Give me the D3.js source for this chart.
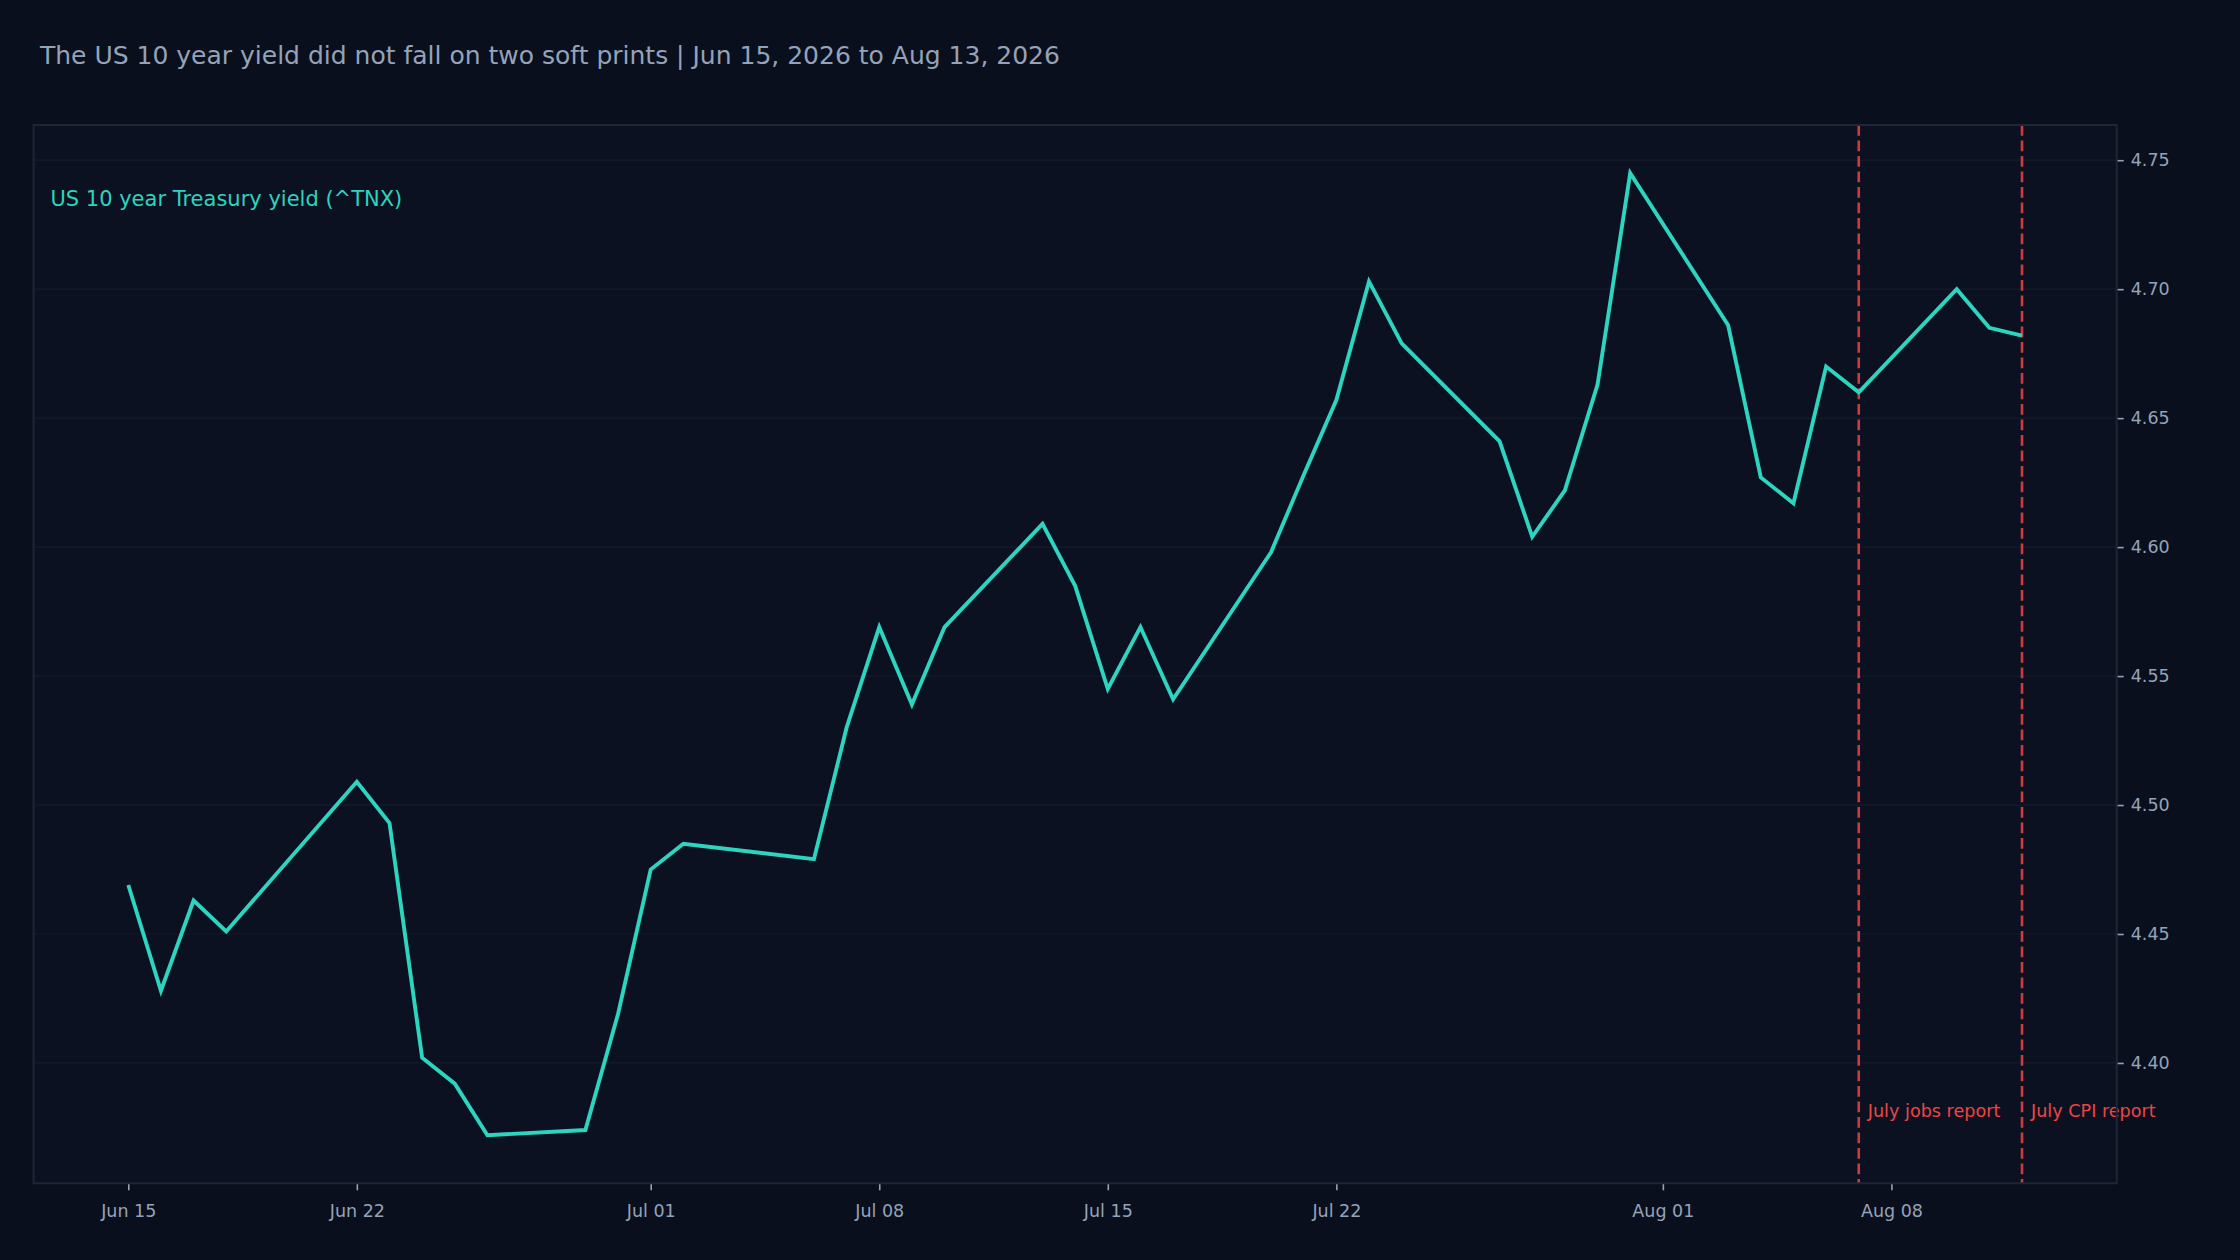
<!DOCTYPE html>
<html>
<head>
<meta charset="utf-8">
<script src="https://cdn.jsdelivr.net/npm/d3@7"></script>
<style>
  html, body { margin: 0; padding: 0; background: #0a0f1e; }
  svg { display: block; font-family: "DejaVu Sans", sans-serif; }
  .tick text { fill: #94a3b8; }
  .tick line { stroke: #94a3b8; }
  .domain { display: none; }
</style>
</head>
<body>
<div class="chart"></div>
<script>
// trading days and closing yield of ^TNX
var dates = [
  "2026-06-15", "2026-06-16", "2026-06-17", "2026-06-18",
  "2026-06-22", "2026-06-23", "2026-06-24", "2026-06-25", "2026-06-26",
  "2026-06-29", "2026-06-30", "2026-07-01", "2026-07-02",
  "2026-07-06", "2026-07-07", "2026-07-08", "2026-07-09", "2026-07-10",
  "2026-07-13", "2026-07-14", "2026-07-15", "2026-07-16", "2026-07-17",
  "2026-07-20", "2026-07-21", "2026-07-22", "2026-07-23", "2026-07-24",
  "2026-07-27", "2026-07-28", "2026-07-29", "2026-07-30", "2026-07-31",
  "2026-08-03", "2026-08-04", "2026-08-05", "2026-08-06", "2026-08-07",
  "2026-08-10", "2026-08-11", "2026-08-12"
];
var yields = [
  4.469, 4.428, 4.463, 4.451,
  4.509, 4.493, 4.402, 4.392, 4.372,
  4.374, 4.419, 4.475, 4.485,
  4.479, 4.530, 4.569, 4.539, 4.569,
  4.609, 4.585, 4.545, 4.569, 4.541,
  4.598, 4.628, 4.657, 4.703, 4.679,
  4.641, 4.604, 4.622, 4.663, 4.745,
  4.686, 4.627, 4.617, 4.670, 4.660,
  4.700, 4.685, 4.682
];

// event markers
var eventDates = ["2026-08-07", "2026-08-12"];
var eventLabels = ["July jobs report", "July CPI report"];

// axis ticks
var xTicks = ["2026-06-15", "2026-06-22", "2026-07-01", "2026-07-08",
              "2026-07-15", "2026-07-22", "2026-08-01", "2026-08-08"];
var yTicks = [4.40, 4.45, 4.50, 4.55, 4.60, 4.65, 4.70, 4.75];

var titleText = "The US 10 year yield did not fall on two soft prints | Jun 15, 2026 to Aug 13, 2026";
var seriesLabel = "US 10 year Treasury yield (^TNX)";

var svgWidth = 2240;
var svgHeight = 1260;
var fontFamily = "'DejaVu Sans', sans-serif";

var margin = {
  top: 125,
  right: 123.3,
  bottom: 76.7,
  left: 33.6
};

var width = svgWidth - margin.left - margin.right;
var height = svgHeight - margin.top - margin.bottom;

var parseDate = d3.utcParse("%Y-%m-%d");

var data = dates.map(function(d, i) {
  return { date: parseDate(d), value: yields[i] };
});

var svg = d3.select(".chart")
  .append("svg")
  .attr("width", svgWidth)
  .attr("height", svgHeight);

svg.append("rect")
  .attr("width", svgWidth)
  .attr("height", svgHeight)
  .attr("fill", "#0a0f1e");

// title
svg.append("text")
  .attr("x", 40)
  .attr("y", 63.5)
  .attr("fill", "#94a3b8")
  .style("font-size", "25px")
  .text(titleText);

var chartGroup = svg.append("g")
  .attr("transform", `translate(${margin.left}, ${margin.top})`);

// plot background
chartGroup.append("rect")
  .attr("width", width)
  .attr("height", height)
  .attr("fill", "#0b1120");

// scales, with 5% padding like the original
var xExtent = d3.extent(data, d => d.date);
var xPad = (xExtent[1] - xExtent[0]) * 0.05;
var xScale = d3.scaleUtc()
  .domain([new Date(+xExtent[0] - xPad), new Date(+xExtent[1] + xPad)])
  .range([0, width]);

var yExtent = d3.extent(data, d => d.value);
var yPad = (yExtent[1] - yExtent[0]) * 0.05;
var yScale = d3.scaleLinear()
  .domain([yExtent[0] - yPad, yExtent[1] + yPad])
  .range([height, 0]);

// horizontal grid
chartGroup.append("g")
  .selectAll("line")
  .data(yTicks)
  .enter()
  .append("line")
  .attr("x1", 0)
  .attr("x2", width)
  .attr("y1", d => yScale(d))
  .attr("y2", d => yScale(d))
  .attr("stroke", "#141b2b")
  .attr("stroke-width", 1.2);

// axes
var bottomAxis = d3.axisBottom(xScale)
  .tickValues(xTicks.map(parseDate))
  .tickFormat(d3.utcFormat("%b %d"))
  .tickSize(7)
  .tickPadding(14);

var rightAxis = d3.axisRight(yScale)
  .tickValues(yTicks)
  .tickFormat(d3.format(".2f"))
  .tickSize(7)
  .tickPadding(7);

chartGroup.append("g")
  .attr("transform", `translate(0, ${height})`)
  .call(bottomAxis)
  .attr("font-family", fontFamily)
  .attr("font-size", 17.5)
  .call(g => g.selectAll(".tick line").attr("stroke-width", 1.6));

chartGroup.append("g")
  .attr("transform", `translate(${width}, 0)`)
  .call(rightAxis)
  .attr("font-family", fontFamily)
  .attr("font-size", 17.5)
  .call(g => g.selectAll(".tick line").attr("stroke-width", 1.6));

// event lines
var events = eventDates.map(function(d, i) {
  return { date: parseDate(d), label: eventLabels[i] };
});

chartGroup.selectAll(".event-line")
  .data(events)
  .enter()
  .append("line")
  .attr("class", "event-line")
  .attr("x1", d => xScale(d.date))
  .attr("x2", d => xScale(d.date))
  .attr("y1", 0)
  .attr("y2", height)
  .attr("stroke", "#ef4444")
  .attr("stroke-opacity", 0.85)
  .attr("stroke-width", 2.6)
  .attr("stroke-dasharray", "10.8,4.7");

chartGroup.selectAll(".event-label")
  .data(events)
  .enter()
  .append("text")
  .attr("class", "event-label")
  .attr("x", d => xScale(d.date) + 9)
  .attr("y", height - 66)
  .attr("fill", "#ef4444")
  .style("font-size", "17.6px")
  .text(d => d.label);

// yield line
var line = d3.line()
  .x(d => xScale(d.date))
  .y(d => yScale(d.value));

chartGroup.append("path")
  .datum(data)
  .attr("d", line)
  .attr("fill", "none")
  .attr("stroke", "#2dd4bf")
  .attr("stroke-width", 3.9)
  .attr("stroke-linejoin", "miter")
  .attr("stroke-linecap", "butt");

// series label
chartGroup.append("text")
  .attr("x", 16.8)
  .attr("y", 80.7)
  .attr("fill", "#2dd4bf")
  .style("font-size", "21px")
  .text(seriesLabel);

// plot frame
chartGroup.append("rect")
  .attr("width", width)
  .attr("height", height)
  .attr("fill", "none")
  .attr("stroke", "#1e2535")
  .attr("stroke-width", 2);
</script>
</body>
</html>
